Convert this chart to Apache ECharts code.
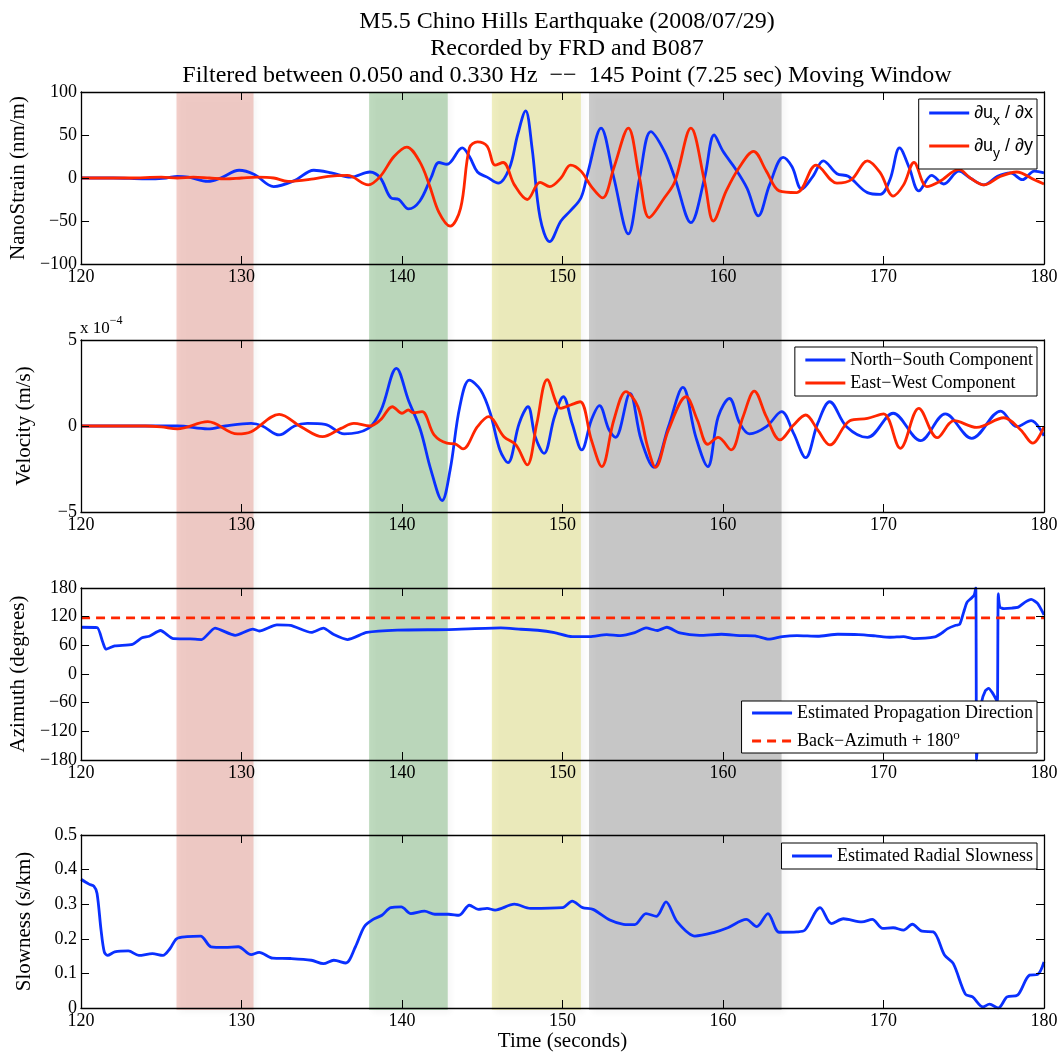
<!DOCTYPE html>
<html>
<head>
<meta charset="utf-8">
<script src="https://cdn.jsdelivr.net/npm/echarts@6/dist/echarts.min.js"></script>
<style>
  html, body { margin: 0; padding: 0; background: #fff; }
  #chart { width: 1062px; height: 1054px; }
</style>
</head>
<body>
<div id="chart"></div>
<script>
// ---- data: [time (s), value] ----
const timeTicks = [120, 130, 140, 150, 160, 170, 180];

// strain, nm/m
const strainDuxDx = [[120,0],[122,0],[124,-1],[125.3,0],[126,2],[126.7,1],[127.9,-4],[128.7,0],[129.85,9],[130.8,4],[132.0,-10],[133.3,-3],[134.5,9],[135.6,6],[136.8,1],[138.0,7],[138.65,0],[139.3,-23],[139.8,-25],[140.4,-36],[141.1,-27],[141.8,0],[142.3,18],[142.8,16],[143.75,35],[144.2,25],[144.7,7],[145.3,1],[146.0,-6],[146.7,12],[147.2,50],[147.7,78],[148.1,35],[148.6,-46],[149.2,-74],[149.9,-50],[150.5,-38],[151.15,-23],[151.6,8],[152.4,58],[153.2,0],[154.1,-65],[154.8,0],[155.5,54],[156.35,31],[157.0,0],[158.0,-52],[158.85,0],[159.45,50],[160.0,31],[160.8,10],[161.5,-12],[162.2,-44],[162.9,-8],[163.75,24],[164.3,13],[164.9,-13],[165.6,2],[166.25,20],[167.1,5],[167.8,2],[169.0,-17],[169.8,-19],[170.4,-2],[171.0,35],[171.6,12],[172.2,-15],[173.0,3],[173.75,-7],[174.7,8],[175.4,0],[176.25,-8],[177.1,2],[177.9,6],[178.65,-2],[179.4,8],[180,6]];
const strainDuyDy = [[120,0],[123,0],[125,1],[126,0],[127,1],[128,0],[129,-1],[130,0],[131,1],[132,0],[132.9,-4],[134.5,-1],[135.4,2],[136.6,3],[137.9,-8],[138.65,2],[139.5,25],[140.3,36],[141.1,19],[141.7,-8],[142.3,-40],[143.0,-56],[143.65,-35],[144.2,35],[144.7,42],[145.3,37],[145.8,15],[146.3,18],[147.0,-8],[147.8,-25],[148.6,-5],[149.2,-10],[149.9,0],[150.5,15],[151.15,8],[151.8,-10],[152.5,-23],[153.2,12],[154.1,58],[154.8,0],[155.4,-46],[156.35,-23],[157.0,-4],[158.0,58],[158.85,-4],[159.4,-50],[160.2,-15],[161.0,12],[161.9,31],[162.7,8],[163.5,-15],[164.6,-17],[165.8,15],[167.1,-6],[168.0,-2],[169.0,20],[169.8,6],[170.6,-21],[171.25,-8],[171.9,18],[172.7,-10],[173.5,-4],[174.7,10],[175.4,0],[176.25,-8],[177.3,2],[178.3,7],[179.4,-2],[180,-7]];

// ground velocity, 1e-4 m/s
const velocityNS = [[120,0],[124,0],[126,0],[127.9,-0.17],[129,0],[130.6,0.15],[131.3,0],[132.35,-0.52],[133.3,0],[134.1,0.15],[135.2,0.1],[136.4,-0.46],[137.9,-0.14],[138.7,0.93],[139.65,3.35],[140.4,1.5],[141.15,-0.23],[141.8,-2.55],[142.5,-4.33],[143.0,-2.55],[143.6,1.12],[144.2,2.67],[144.9,2.09],[145.5,0.74],[146.1,-1.39],[146.6,-2.13],[147.3,0.15],[147.85,1.12],[148.3,-0.62],[148.85,-1.59],[149.5,0.54],[150.05,1.7],[150.6,0.15],[151.2,-1.39],[151.8,0.35],[152.3,1.18],[152.9,-0.23],[153.3,-0.66],[154.2,1.9],[154.9,-0.81],[155.7,-2.4],[156.6,-0.04],[157.5,2.24],[158.3,-0.62],[159.05,-2.36],[159.7,0.54],[160.4,1.6],[161.05,0.15],[161.65,-0.46],[162.7,-0.04],[163.65,0.83],[164.4,-0.43],[165.15,-1.84],[165.9,0.15],[166.65,1.41],[167.7,-0.04],[169.0,-0.66],[170.6,0.74],[172.3,-0.85],[173.85,0.7],[175.5,-0.72],[177.3,0.87],[178.3,-0.04],[179.2,0.31],[180,-0.58]];
const velocityEW = [[120,0],[124,0],[125,-0.05],[126.0,-0.17],[127.9,0.25],[129.75,-0.46],[130.6,-0.33],[132.35,0.68],[133.7,-0.04],[135.05,-0.62],[136.2,-0.14],[137.0,0.15],[138.0,0],[138.65,0.35],[139.4,1.12],[140.0,0.74],[140.4,0.93],[140.7,0.77],[141.25,0.83],[142.0,-0.52],[142.8,-1.0],[143.3,-1.04],[143.8,-1.33],[144.7,-0.04],[145.4,0.54],[146.35,-0.62],[147.1,-1.1],[147.8,-2.26],[148.4,0.15],[149.05,2.7],[149.9,1.03],[150.5,1.22],[151.1,1.41],[151.8,-0.81],[152.45,-2.36],[153.2,0.35],[153.95,2.0],[154.7,1.12],[155.3,-1.2],[155.8,-2.4],[156.6,-0.23],[157.7,1.7],[158.4,0.35],[159.05,-1.06],[159.7,-0.66],[160.5,-1.39],[161.25,0.54],[161.95,2.03],[162.7,0.54],[163.55,-0.81],[164.4,0.06],[165.15,0.64],[165.9,-0.23],[166.65,-1.1],[167.9,0.31],[169.0,0.44],[170.0,0.7],[171.05,-1.3],[172.2,1.03],[173.35,-0.68],[174.4,0.31],[175.8,-0.08],[177.5,0.48],[178.55,-0.23],[179.3,-1.0],[180,-0.04]];

// azimuth, degrees
const propagationAzimuth = [[120,97.8],[121.0,97],[121.35,67],[121.55,52],[122.1,59],[123.2,62],[123.8,76],[124.25,79],[124.95,91],[125.75,74],[126.8,73.5],[127.5,72],[128.35,96],[129.6,81],[130.7,94],[131.1,90],[132.2,103],[133.05,102],[134.35,87],[135.1,96],[135.75,82.5],[136.6,72],[137.8,87],[139.7,92],[142.9,93],[146.15,96.5],[147.4,93.7],[148.45,91.6],[149.5,86.7],[150.6,78.3],[151.7,78.3],[152.75,82.5],[153.6,80.4],[154.5,86.7],[155.2,96.4],[155.9,91],[156.5,97.8],[157.3,86],[158.55,81],[159.9,83.2],[161.1,80.4],[162.0,79.7],[162.85,72.8],[163.7,78.3],[164.6,80.4],[165.9,79],[167.15,83.2],[168.45,82.5],[169.5,79.7],[170.4,76.9],[171.25,78.3],[171.9,74.2],[173.2,77.6],[173.6,85],[174.0,95],[174.5,102],[174.75,104],[175.0,130],[175.2,150],[175.45,158],[175.65,165],[175.75,180],[175.8,-180],[175.9,-120],[176.1,-60],[176.35,-35],[176.55,-30],[176.8,-40],[177.05,-55],[177.1,-58],[177.15,168],[177.25,140],[177.5,137],[178.0,138],[178.4,140],[178.8,150],[179.2,156],[179.6,148],[180,124]];
const backAzimuth180 = [[120,117.5],[180,117.5]];

// radial slowness, s/km
const radialSlowness = [[120,0.372],[120.5,0.358],[120.8,0.352],[121.0,0.331],[121.25,0.225],[121.45,0.162],[121.65,0.152],[122.1,0.162],[122.95,0.165],[123.6,0.152],[124.45,0.157],[125.1,0.152],[125.55,0.172],[125.95,0.2],[126.6,0.206],[127.45,0.208],[128.1,0.177],[128.95,0.175],[129.8,0.177],[130.6,0.154],[131.1,0.161],[131.95,0.144],[133.05,0.143],[134.35,0.138],[135.1,0.128],[135.75,0.138],[136.5,0.13],[137.1,0.177],[137.65,0.235],[138.2,0.256],[138.75,0.268],[139.3,0.29],[139.95,0.292],[140.55,0.273],[141.4,0.28],[142.05,0.271],[142.9,0.271],[143.55,0.268],[144.2,0.297],[144.75,0.285],[145.3,0.288],[145.8,0.283],[147.0,0.3],[148.0,0.288],[150.0,0.29],[150.6,0.309],[151.25,0.29],[151.9,0.285],[152.95,0.254],[153.8,0.242],[154.5,0.241],[155.2,0.273],[155.85,0.265],[156.45,0.307],[157.15,0.249],[158.25,0.208],[159.4,0.218],[160.3,0.232],[161.45,0.256],[162.1,0.235],[162.8,0.273],[163.5,0.219],[164.6,0.22],[165.1,0.225],[166.05,0.29],[166.75,0.244],[167.5,0.258],[168.65,0.249],[169.3,0.256],[169.95,0.23],[170.6,0.232],[171.25,0.225],[171.8,0.242],[172.4,0.222],[173.1,0.22],[173.8,0.153],[174.35,0.128],[175.1,0.04],[175.55,0.032],[176.2,0.003],[176.6,0.011],[177.15,0],[177.7,0.032],[178.35,0.037],[179.1,0.095],[179.6,0.097],[180,0.133]];

// analysis windows [start, end] in seconds
const windowSpans = [[125.95, 130.75], [137.95, 142.85], [145.6, 151.15], [151.65, 163.65]];
const windowColors = ['rgba(222,120,106,0.36)', 'rgba(98,168,98,0.40)', 'rgba(218,215,98,0.40)', 'rgba(127,127,127,0.40)'];

// ---- layout / styling ----
const SERIF = 'Liberation Serif';
const SANS = 'Liberation Sans';
const BLUE = '#0a30ff';
const RED = '#ff2600';
const panels = [
  { top: 92,  height: 172, min: -100, max: 100, interval: 50,  name: 'NanoStrain (nm/m)' },
  { top: 340, height: 172, min: -5,   max: 5,   interval: 5,   name: 'Velocity (m/s)' },
  { top: 588, height: 172, min: -180, max: 180, interval: 60,  name: 'Azimuth (degrees)' },
  { top: 835, height: 173, min: 0,    max: 0.5, interval: 0.1, name: 'Slowness (s/km)' }
];

const minusFmt = v => (v < 0 ? '\u2212' + Math.abs(v) : String(v));
const lineAx = { show: true, onZero: false, lineStyle: { color: '#000', width: 1.3 } };
const tickAx = { show: true, inside: true, length: 8, lineStyle: { color: '#000', width: 1 } };
const labelStyle = { fontFamily: SERIF, fontSize: 18, color: '#000' };
const nameStyle = { fontFamily: SERIF, fontSize: 21, color: '#000' };

const grid = [];
const xAxis = [];
const yAxis = [];
panels.forEach((p, i) => {
  grid.push({ left: 81, right: 18, top: p.top, height: p.height });
  // bottom axis with labels
  xAxis.push({
    type: 'value', gridIndex: i, min: 120, max: 180, interval: 10, position: 'bottom', z: 20,
    axisLine: lineAx, axisTick: tickAx, splitLine: { show: false },
    axisLabel: Object.assign({ margin: 4 }, labelStyle),
    name: i === 3 ? 'Time (seconds)' : '', nameLocation: 'middle', nameGap: 23,
    nameTextStyle: nameStyle
  });
  // top mirror axis
  xAxis.push({
    type: 'value', gridIndex: i, min: 120, max: 180, interval: 10, position: 'top', z: 20,
    axisLine: lineAx, axisTick: tickAx, splitLine: { show: false }, axisLabel: { show: false }
  });
  yAxis.push({
    type: 'value', gridIndex: i, min: p.min, max: p.max, interval: p.interval, position: 'left', z: 20,
    axisLine: lineAx, axisTick: tickAx, splitLine: { show: false },
    axisLabel: Object.assign({ margin: 4, formatter: minusFmt }, labelStyle),
    name: p.name, nameLocation: 'middle', nameGap: 46,
    nameTextStyle: nameStyle
  });
  yAxis.push({
    type: 'value', gridIndex: i, min: p.min, max: p.max, interval: p.interval, position: 'right', z: 20,
    axisLine: lineAx, axisTick: tickAx, splitLine: { show: false }, axisLabel: { show: false }
  });
});
// overlay grid used for the shaded time windows spanning all panels
grid.push({ left: 81, right: 18, top: 92, bottom: 44 });
xAxis.push({ type: 'value', gridIndex: 4, min: 120, max: 180, show: false });
yAxis.push({ type: 'value', gridIndex: 4, min: 0, max: 1, show: false });

const lineSeries = (name, data, panel, color, extra) => Object.assign({
  name, type: 'line', data, xAxisIndex: panel * 2, yAxisIndex: panel * 2,
  symbol: 'none', smooth: 0.35, clip: true, z: 5,
  lineStyle: { color, width: 2.8 }, itemStyle: { color }
}, extra || {});

const series = [
  lineSeries('\u2202ux / \u2202x', strainDuxDx, 0, BLUE),
  lineSeries('\u2202uy / \u2202y', strainDuyDy, 0, RED),
  lineSeries('North\u2212South Component', velocityNS, 1, BLUE),
  lineSeries('East\u2212West Component', velocityEW, 1, RED),
  lineSeries('Estimated Propagation Direction', propagationAzimuth, 2, BLUE, { smooth: 0.2 }),
  lineSeries('Back\u2212Azimuth + 180', backAzimuth180, 2, RED, {
    smooth: false, lineStyle: { color: RED, width: 2.8, type: [9, 6] }
  }),
  lineSeries('Estimated Radial Slowness', radialSlowness, 3, BLUE, { smooth: 0.3 }),
  {
    name: 'windows', type: 'line', xAxisIndex: 8, yAxisIndex: 8, data: [], z: 10, silent: true,
    markArea: {
      silent: true,
      data: windowSpans.map((s, k) => [
        { xAxis: s[0], itemStyle: { color: windowColors[k], shadowBlur: 6, shadowOffsetX: 3, shadowOffsetY: 3, shadowColor: 'rgba(0,0,0,0.10)' } },
        { xAxis: s[1] }
      ])
    }
  }
];

const legendBase = {
  orient: 'vertical', right: 25, itemWidth: 40, itemHeight: 14, z: 30,
  backgroundColor: '#fff', borderColor: '#000', borderWidth: 1, borderRadius: 0,
  selectedMode: false, align: 'left',
  itemStyle: { opacity: 0 },
  lineStyle: { width: 3 }
};
const legend = [
  Object.assign({}, legendBase, {
    top: 99, itemGap: 9, padding: [5, 4, 8, 9],
    data: ['\u2202ux / \u2202x', '\u2202uy / \u2202y'],
    formatter: n => n.startsWith('\u2202ux') ? '{m|\u2202u}{b|x}{m| / \u2202x}' : '{m|\u2202u}{b|y}{m| / \u2202y}',
    textStyle: {
      fontFamily: SANS, fontSize: 18, color: '#000',
      rich: {
        m: { fontFamily: SANS, fontSize: 18, lineHeight: 30, verticalAlign: 'middle', color: '#000' },
        b: { fontFamily: SANS, fontSize: 14, lineHeight: 30, verticalAlign: 'bottom', color: '#000' }
      }
    }
  }),
  Object.assign({}, legendBase, {
    top: 347, itemGap: 3, padding: [3, 4, 3, 9],
    data: ['North\u2212South Component', 'East\u2212West Component'],
    textStyle: { fontFamily: SERIF, fontSize: 18, color: '#000', lineHeight: 20 }
  }),
  Object.assign({}, legendBase, {
    top: 701, itemGap: 7, padding: [3, 4, 3, 9],
    data: ['Estimated Propagation Direction', 'Back\u2212Azimuth + 180'],
    formatter: n => n.startsWith('Back') ? '{m|' + n + '}{s|o}' : '{m|' + n + '}',
    textStyle: {
      fontFamily: SERIF, fontSize: 18, color: '#000',
      rich: {
        m: { fontFamily: SERIF, fontSize: 18, lineHeight: 24, verticalAlign: 'middle', color: '#000' },
        s: { fontFamily: SERIF, fontSize: 13, lineHeight: 24, verticalAlign: 'top', color: '#000' }
      }
    }
  }),
  Object.assign({}, legendBase, {
    top: 843, itemGap: 3, padding: [2, 4, 2, 9],
    data: ['Estimated Radial Slowness'],
    textStyle: { fontFamily: SERIF, fontSize: 18, color: '#000', lineHeight: 22 }
  })
];

const chart = echarts.init(document.getElementById('chart'), null, { renderer: 'canvas' });
chart.setOption({
  animation: false,
  backgroundColor: '#fff',
  title: {
    text: 'M5.5 Chino Hills Earthquake (2008/07/29)\nRecorded by FRD and B087\nFiltered between 0.050 and 0.330 Hz  \u2212\u2212  145 Point (7.25 sec) Moving Window',
    left: 562, top: 3, textAlign: 'center',
    textStyle: { fontFamily: SERIF, fontSize: 24, fontWeight: 'normal', color: '#000', lineHeight: 27 }
  },
  graphic: [{
    type: 'text', left: 80, top: 315, z: 30,
    style: {
      text: '{a|x 10}{s|\u22124}',
      rich: {
        a: { fontFamily: SERIF, fontSize: 17, lineHeight: 22, verticalAlign: 'bottom', fill: '#000' },
        s: { fontFamily: SERIF, fontSize: 12, lineHeight: 22, verticalAlign: 'top', fill: '#000' }
      }
    }
  }],
  grid, xAxis, yAxis, legend, series
});
</script>
</body>
</html>
